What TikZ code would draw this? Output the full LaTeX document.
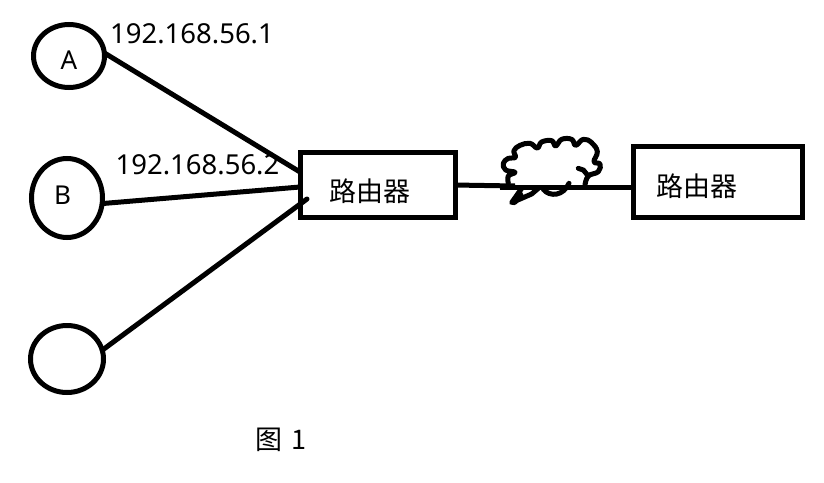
\documentclass[tikz,border=0pt]{standalone}
\usepackage{fontspec}
\setmainfont{Noto Sans}
\newfontfamily\cjk{Noto Sans CJK SC}
\usetikzlibrary{shapes.geometric}
\tikzset{
    host/.style={draw, ellipse, line width=5pt, inner sep=0pt, outer sep=0pt},
    router/.style={draw, rectangle, line width=5pt, inner sep=0pt, outer sep=0pt},
    link/.style={line width=5pt},
    cloudline/.style={line width=5pt, line cap=round, line join=round},
    iplabel/.style={font=\fontsize{27.5}{30}\selectfont, inner sep=0pt},
    hostlabel/.style={font=\fontsize{26}{30}\selectfont, inner sep=0pt},
    cnlabel/.style={font=\cjk\fontsize{27}{30}\selectfont, inner sep=0pt}
}
\begin{document}
\begin{tikzpicture}[x=1pt, y=-1pt]
    \useasboundingbox (0,0) rectangle (824,482);

    % hosts
    \node[host, minimum width=71pt, minimum height=63pt] (hostA) at (69,56) {};
    \node[host, minimum width=71pt, minimum height=79pt] (hostB) at (67,198) {};
    \node[host, minimum width=73pt, minimum height=67pt] (hostC) at (67,359) {};
    \node[hostlabel] (textA) at (69,60) {A};
    \node[hostlabel] (textB) at (62.5,195) {B};

    % routers
    \node[router, minimum width=155pt, minimum height=65pt] (routerL) at (378,185) {};
    \node[router, minimum width=169pt, minimum height=71pt] (routerR) at (718,182) {};
    \node[cnlabel] (textL) at (370,191) {路由器};
    \node[cnlabel] (textR) at (696.5,186) {路由器};

    % addresses
    \node[iplabel] (ipA) at (192,34) {192.168.56.1};
    \node[iplabel] (ipB) at (197.5,164.5) {192.168.56.2};

    % ends of the links at the routers
    \coordinate (portA) at (300,172);
    \coordinate (portB) at (300,187);
    \coordinate (portC) at (307,199);
    \coordinate (portL) at (454,185);
    \coordinate (portM) at (515,186);
    \coordinate (portN) at (500,187);
    \coordinate (portR) at (633,187);

    % links
    \draw[link] (hostA.5) -- (portA);
    \draw[link] (hostB.-9) -- (portB);
    \draw[link, line cap=round] (hostC.14) -- (portC);
    \draw[link] (portL) -- (portM);
    \draw[link] (portN) -- (portR);

    % cloud
    \begin{scope}[shift={(440,120)}, x=0.3333pt, y=-0.3333pt]
        \draw[cloudline]
            plot[smooth, tension=0.7] coordinates {(205,190) (205,168) (225,157)
            (197,150) (190,130) (205,115) (226,112) (222,92) (240,76) (270,70)
            (292,84) (305,66) (335,62) (347,78) (365,58) (395,58) (407,76)
            (430,58) (455,68) (472,95) (462,125) (480,132) (475,155) (445,168)
            (435,195)};
        \draw[cloudline] (415,145) -- (430,150) -- (445,168);
        \draw[cloudline] (310,208) .. controls (330,232) and (370,228) .. (387,190);
        \draw[cloudline] (245,205) -- (215,248) -- (275,222) -- (295,205);
        \draw[line width=7pt, line cap=round] (240,225) -- (222,245);
    \end{scope}

    % caption
    \node[cnlabel] (caption) at (281,440) {图\hspace{2pt} 1};
\end{tikzpicture}
\end{document}
